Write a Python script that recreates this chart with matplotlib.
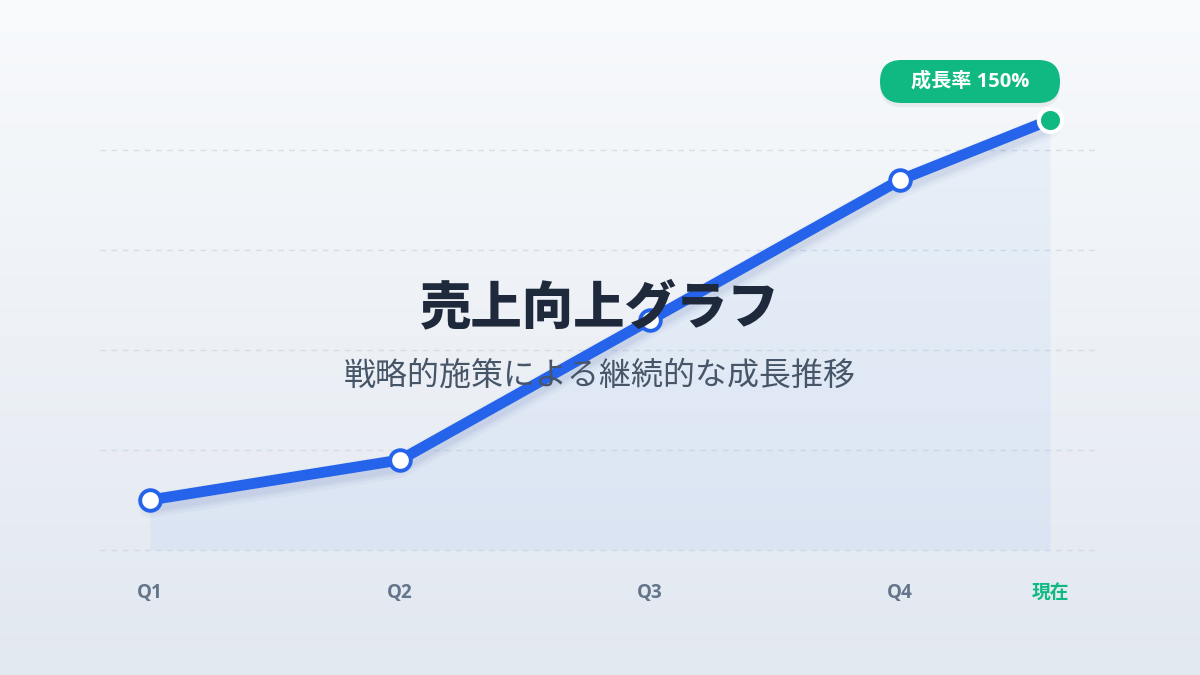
import matplotlib
matplotlib.use("Agg")
import matplotlib.pyplot as plt
import numpy as np
from matplotlib.patches import FancyBboxPatch

plt.rcParams['font.family'] = ['Noto Sans CJK JP', 'DejaVu Sans']
latin_first = ['Open Sans', 'Noto Sans CJK JP']

categories = ["Q1", "Q2", "Q3", "Q4", "現在"]
x_pos = [0, 1, 2, 3, 3.6]
values = [50, 90, 230, 370, 430]
grid_levels = [0, 100, 200, 300, 400]
title = "売上向上グラフ"
subtitle = "戦略的施策による継続的な成長推移"
badge_text = "成長率 150%"

blue = "#2563eb"
green = "#10b981"

fig = plt.figure(figsize=(12, 6.75), dpi=100)
ax = fig.add_axes([0, 0, 1, 1])
ax.set_xlim(-0.6, 4.2)
ax.set_ylim(-125, 550)
ax.axis("off")

# background gradient
top = np.array([0xf8, 0xfa, 0xfc]) / 255
bot = np.array([0xe2, 0xe8, 0xf0]) / 255
t = np.linspace(0, 1, 256)[:, None]
grad = top[None, :] * (1 - t) + bot[None, :] * t
ax.imshow(grad[:, None, :].repeat(2, axis=1), extent=[-0.6, 4.2, -125, 550],
          aspect="auto", zorder=0, origin="upper")

# grid
for g in grid_levels:
    ax.plot([-0.2, 3.78], [g, g], color="#cbd5e1", lw=1, ls=(0, (4, 4)),
            alpha=0.7, zorder=1)

# area
ax.fill_between(x_pos, values, 0, color="#3b82f6", alpha=0.06, lw=0, zorder=2)

# shadow of line
for w, a in [(24, 0.03), (18, 0.04), (13, 0.05)]:
    ax.plot(x_pos, [v - 6 for v in values], color="#1e3a8a", lw=w * 0.72,
            alpha=a, solid_capstyle="round", solid_joinstyle="round", zorder=3)

# line
ax.plot(x_pos, values, color=blue, lw=7.8, solid_capstyle="round",
        solid_joinstyle="round", zorder=4)

# markers
ax.scatter(x_pos[:-1], values[:-1], s=220, facecolor="white", edgecolor=blue,
           linewidth=2.8, zorder=5)
ax.scatter(x_pos[-1:], values[-1:], s=280, facecolor=green, edgecolor="white",
           linewidth=3.0, zorder=6)

# x labels
for i, (xp, c) in enumerate(zip(x_pos, categories)):
    col = green if i == len(categories) - 1 else "#64748b"
    ax.text(xp, -43, c, ha="center", va="center", fontsize=13.5,
            fontweight="bold", color=col, zorder=7, family=latin_first)

# title & subtitle
ax.text(0.5 * (-0.6 + 4.2), 242, title, ha="center", va="center", fontsize=37,
        fontweight="black", color="#1e293b", zorder=8)
ax.text(0.5 * (-0.6 + 4.2), 174, subtitle, ha="center", va="center",
        fontsize=23, color="#475569", zorder=8)

# badge
bx0, bx1 = (880 - 150) / 250, (1060 - 150) / 250
by0, by1 = 550 - 103, 550 - 60
rs = (by1 - by0) / 2 / 250
shadow = FancyBboxPatch((bx0, by0 - 4), bx1 - bx0, by1 - by0,
                        boxstyle=f"round,pad=0,rounding_size={rs}",
                        mutation_aspect=250,
                        facecolor="#0f172a", alpha=0.06, lw=0, zorder=8)
badge = FancyBboxPatch((bx0, by0), bx1 - bx0, by1 - by0,
                       boxstyle=f"round,pad=0,rounding_size={rs}",
                       mutation_aspect=250,
                       facecolor=green, lw=0, zorder=9)
ax.add_patch(shadow)
ax.add_patch(badge)
ax.text((bx0 + bx1) / 2, (by0 + by1) / 2, badge_text, ha="center", va="center",
        fontsize=14.5, fontweight="bold", color="white", zorder=10,
        family=latin_first)

fig.savefig("out.png", dpi=100)
